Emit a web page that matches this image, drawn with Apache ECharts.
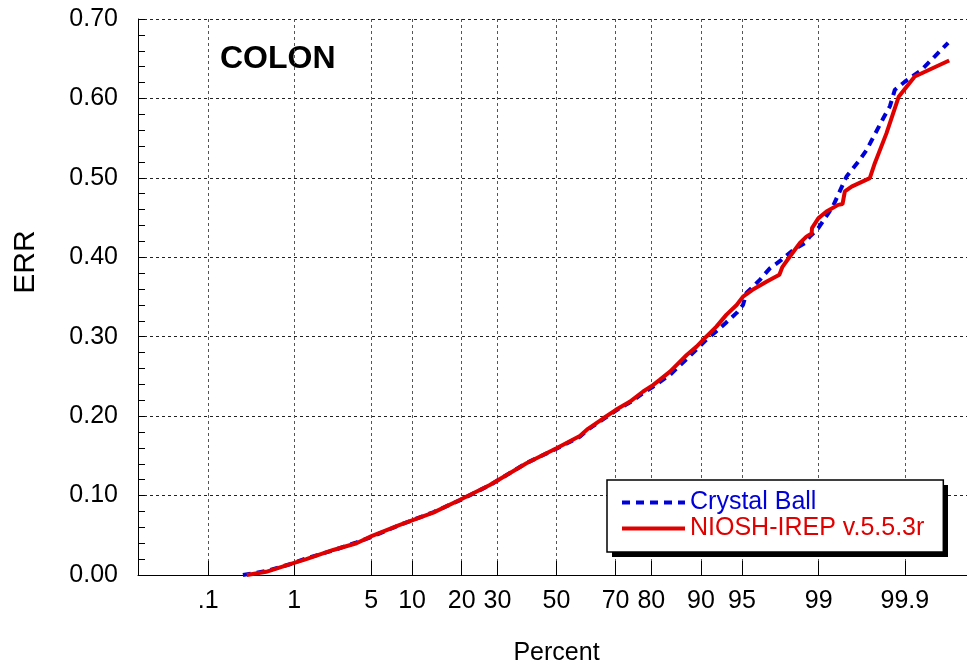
<!DOCTYPE html>
<html>
<head>
<meta charset="utf-8">
<script src="https://cdn.jsdelivr.net/npm/echarts@6/dist/echarts.min.js"></script>
<style>
  html,body{margin:0;padding:0;background:#fff;}
  #chart{width:967px;height:671px;}
</style>
</head>
<body>
<div id="chart"></div>
<script>
// x ticks (percent) and their labels
const tickPercent = [0.1, 1, 5, 10, 20, 30, 50, 70, 80, 90, 95, 99, 99.9]
const tickLabels = ['.1', '1', '5', '10', '20', '30', '50', '70', '80', '90', '95', '99', '99.9']

// Crystal Ball, percent / ERR
const cbPercent = [0.27, 0.5, 0.96, 1.32, 2.38, 3.8, 5.04, 8.23, 13.7, 19.5, 27.7, 39.5, 50, 58.2, 61, 66, 70.1, 74.2, 77.9, 80.4, 84.3, 87.6, 89.3, 90.8, 92.2, 93.4, 94.5, 95.1, 95.4, 96.44, 97.08, 97.7, 98.21, 98.62, 98.77, 98.99, 99.29, 99.496, 99.644, 99.703, 99.813, 99.845, 99.866, 99.9, 99.94, 99.9606, 99.9744]
const cbErr = [0, 0.005, 0.0145, 0.021, 0.031, 0.041, 0.048, 0.063, 0.079, 0.094, 0.113, 0.141, 0.159, 0.174, 0.183, 0.196, 0.207, 0.217, 0.229, 0.237, 0.252, 0.272, 0.284, 0.296, 0.307, 0.318, 0.33, 0.34, 0.355, 0.3716, 0.386, 0.3967, 0.409, 0.4178, 0.426, 0.4366, 0.464, 0.5017, 0.5227, 0.535, 0.575, 0.59, 0.611, 0.621, 0.636, 0.653, 0.67]

// NIOSH-IREP v.5.5.3r, percent / ERR
const irepPercent = [0.3, 0.5, 0.96, 1.32, 2.38, 3.8, 5.04, 8.23, 13.7, 19.5, 27.7, 39.5, 50, 58.2, 61, 66, 70.1, 74.2, 77.9, 80.4, 82, 84.3, 85.7, 87.6, 89.3, 90.8, 92.2, 93.4, 94.5, 95.1, 95.9, 96.9, 97.6, 97.75, 98.08, 98.46, 98.67, 98.82, 98.83, 98.99, 99.17, 99.377, 99.442, 99.474, 99.558, 99.728, 99.763, 99.829, 99.88, 99.926, 99.9753]
const irepErr = [0, 0.004, 0.0147, 0.02, 0.0315, 0.04, 0.049, 0.063, 0.0785, 0.0945, 0.1134, 0.1407, 0.1596, 0.175, 0.184, 0.197, 0.208, 0.218, 0.231, 0.239, 0.2456, 0.256, 0.2645, 0.277, 0.2875, 0.3, 0.3127, 0.3275, 0.34, 0.3505, 0.359, 0.3694, 0.378, 0.388, 0.401, 0.418, 0.426, 0.43, 0.4367, 0.449, 0.4576, 0.466, 0.467, 0.483, 0.489, 0.4996, 0.5185, 0.556, 0.602, 0.6276, 0.6478]

// 正态概率纸: percent -> normal score
const probit = (p) => {
  const a = [-3.969683028665376e+01, 2.209460984245205e+02, -2.759285104469687e+02, 1.383577518672690e+02, -3.066479806614716e+01, 2.506628277459239e+00]
  const b = [-5.447609879822406e+01, 1.615858368580409e+02, -1.556989798598866e+02, 6.680131188771972e+01, -1.328068155288572e+01]
  const c = [-7.784894002430293e-03, -3.223964580411365e-01, -2.400758277161838e+00, -2.549732539343734e+00, 4.374664141464968e+00, 2.938163982698783e+00]
  const d = [7.784695709041462e-03, 3.224671290700398e-01, 2.445134137142996e+00, 3.754408661907416e+00]
  const pl = 0.02425
  let q, r
  if (p < pl) {
    q = Math.sqrt(-2 * Math.log(p))
    return (((((c[0]*q+c[1])*q+c[2])*q+c[3])*q+c[4])*q+c[5]) / ((((d[0]*q+d[1])*q+d[2])*q+d[3])*q+1)
  }
  if (p > 1 - pl) {
    q = Math.sqrt(-2 * Math.log(1 - p))
    return -(((((c[0]*q+c[1])*q+c[2])*q+c[3])*q+c[4])*q+c[5]) / ((((d[0]*q+d[1])*q+d[2])*q+d[3])*q+1)
  }
  q = p - 0.5
  r = q * q
  return (((((a[0]*r+a[1])*r+a[2])*r+a[3])*r+a[4])*r+a[5])*q / (((((b[0]*r+b[1])*r+b[2])*r+b[3])*r+b[4])*r+1)
}
const z = (pct) => probit(pct / 100)
const tickZ = tickPercent.map(z)
const pairs = (ps, vs) => ps.map((p, i) => [z(p), vs[i]])

const font = "'Liberation Sans', Arial, sans-serif"
const blue = '#0000d8'
const red = '#e00000'

const myChart = echarts.init(document.getElementById('chart'))
const option = {
  animation: false,
  grid: { left: 138, right: -8, top: 19, bottom: 96, containLabel: false, outerBoundsMode: 'none' },
  xAxis: {
    type: 'value',
    min: -3.713,
    max: 3.713,
    name: 'Percent',
    nameLocation: 'middle',
    nameGap: 66,
    nameTextStyle: { fontFamily: font, fontSize: 25, color: '#000' },
    axisLine: { show: true, onZero: false, lineStyle: { color: '#000', width: 1 } },
    axisTick: { show: true, inside: true, length: 14, customValues: tickZ, lineStyle: { color: '#000' } },
    axisLabel: {
      customValues: tickZ,
      margin: 14,
      fontFamily: font,
      fontSize: 25,
      color: '#000',
      formatter: (v) => {
        const i = tickZ.findIndex(t => Math.abs(t - v) < 1e-6)
        return i >= 0 ? tickLabels[i] : ''
      }
    },
    splitLine: { show: true, lineStyle: { color: '#555', type: [3, 3], width: 1 } }
  },
  yAxis: {
    type: 'value',
    min: 0,
    max: 0.7,
    interval: 0.1,
    axisLine: { show: true, onZero: false, lineStyle: { color: '#000', width: 1 } },
    axisTick: { show: true, inside: true, length: 7, lineStyle: { color: '#000' } },
    minorTick: { show: true, splitNumber: 5, length: 7, lineStyle: { color: '#000' } },
    axisLabel: {
      margin: 20,
      fontFamily: font,
      fontSize: 25,
      color: '#000',
      formatter: (v) => v.toFixed(2)
    },
    splitLine: { show: true, lineStyle: { color: '#222', type: [3, 3], width: 1 } }
  },
  legend: {
    orient: 'vertical',
    left: 607,
    top: 480,
    padding: [10, 19, 11, 13],
    itemWidth: 63,
    itemHeight: 14,
    itemGap: 1,
    backgroundColor: '#fff',
    borderColor: '#000',
    borderWidth: 1.5,
    borderRadius: 0,
    z: 5,
    itemStyle: { opacity: 0 },
    lineStyle: { width: 4 },
    textStyle: { fontFamily: font, fontSize: 25, lineHeight: 25 },
    data: [
      { name: 'Crystal Ball', textStyle: { color: blue } },
      { name: 'NIOSH-IREP v.5.5.3r', textStyle: { color: red } }
    ]
  },
  graphic: [
    {
      type: 'text',
      x: 26,
      y: 262,
      rotation: Math.PI / 2,
      style: { text: 'ERR', fontFamily: font, fontSize: 30, fill: '#000', align: 'center', verticalAlign: 'middle' }
    },
    {
      type: 'text',
      left: 220,
      top: 43,
      style: { text: 'COLON', fontFamily: font, fontSize: 32, fontWeight: 'bold', fill: '#000' }
    },
    // legend 阴影
    {
      type: 'rect',
      z: 4,
      shape: { x: 612, y: 485, width: 336, height: 72 },
      style: { fill: '#000' }
    }
  ],
  series: [
    {
      name: 'Crystal Ball',
      type: 'line',
      symbol: 'none',
      data: pairs(cbPercent, cbErr),
      itemStyle: { color: blue },
      lineStyle: { color: blue, width: 4, type: [8, 6] }
    },
    {
      name: 'NIOSH-IREP v.5.5.3r',
      type: 'line',
      symbol: 'none',
      data: pairs(irepPercent, irepErr),
      itemStyle: { color: red },
      lineStyle: { color: red, width: 4 }
    }
  ]
}
myChart.setOption(option)
</script>
</body>
</html>
